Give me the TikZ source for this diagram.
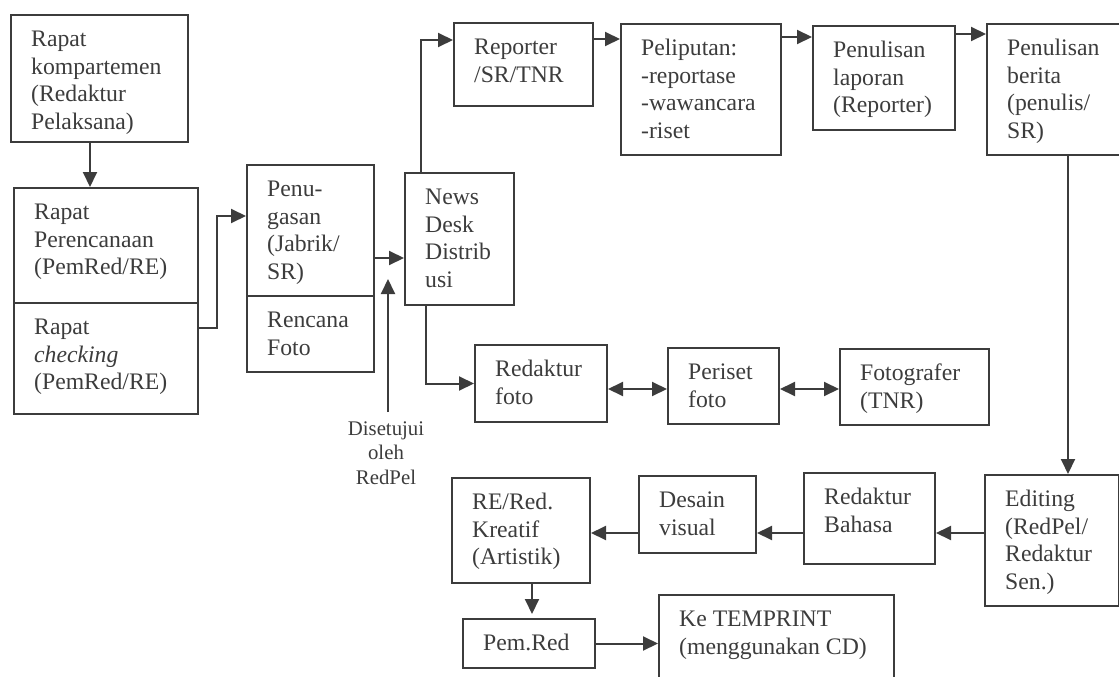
\documentclass[tikz,border=0pt]{standalone}
\usepackage{fontspec}
\setmainfont{Liberation Serif}
\usetikzlibrary{arrows.meta}
\definecolor{ink}{HTML}{3C3C3C}
\tikzset{
  boxst/.style={draw=ink, line width=2pt, inner sep=0pt, anchor=north west},
  txt/.style={inner sep=0pt, anchor=north west, align=left, text=ink,
    font=\fontsize{23.7}{27.7}\selectfont},
  lbl/.style={inner sep=0pt, anchor=north, align=center, text=ink,
    font=\fontsize{20.8}{24.5}\selectfont},
  arr/.style={draw=ink, line width=2pt, -{Triangle[length=15pt,width=14pt]}},
  darr/.style={draw=ink, line width=2pt, {Triangle[length=15pt,width=14pt]}-{Triangle[length=15pt,width=14pt]}},
  ln/.style={draw=ink, line width=2pt}
}
\newcommand\bx[6]{%
  \node[boxst,minimum width=#4pt,minimum height=#5pt] (#1) at (#2,#3) {};
  \node[txt] (#1t) at ([shift={(21,13)}]#1.north west) {\strut #6};}
\begin{document}
\begin{tikzpicture}[x=1pt,y=-1pt]
\useasboundingbox (0,0) rectangle (1119,677);
\bx{A}{10}{14}{177}{127}{Rapat\\kompartemen\\(Redaktur\\Pelaksana)}
\bx{B}{13}{187}{184}{115}{Rapat\\Perencanaan\\(PemRed/RE)}
\bx{C}{13}{302}{184}{111}{Rapat\\\textit{checking}\\(PemRed/RE)}
\bx{D}{246}{164}{127}{131}{Penu-\\gasan\\(Jabrik/\\SR)}
\bx{E}{246}{295}{127}{76}{Rencana\\Foto}
\bx{F}{404}{172}{109}{132}{News\\Desk\\Distrib\\usi}
\bx{G}{453}{22}{139}{83}{Reporter\\/SR/TNR}
\bx{H}{620}{23}{160}{131}{Peliputan:\\-reportase\\-wawancara\\-riset}
\bx{I}{812}{25}{142}{104}{Penulisan\\laporan\\(Reporter)}
\bx{J}{986}{23}{144}{131}{Penulisan\\berita\\(penulis/\\SR)}
\bx{K}{474}{344}{132}{77}{Redaktur\\foto}
\bx{L}{667}{347}{111}{76}{Periset\\foto}
\bx{M}{839}{348}{149}{76}{Fotografer\\(TNR)}
\bx{N}{984}{474}{134}{131}{Editing\\(RedPel/\\Redaktur\\Sen.)}
\bx{O}{803}{472}{131}{91}{Redaktur\\Bahasa}
\bx{P}{638}{475}{117}{77}{Desain\\visual}
\bx{Q}{451}{477}{138}{105}{RE/Red.\\Kreatif\\(Artistik)}
\bx{R}{462}{618}{132}{49}{Pem.Red}
\bx{S}{658}{594}{235}{110}{Ke TEMPRINT\\(menggunakan CD)}
% approval label
\node[lbl] (appr) at (386,418) {\strut Disetujui\\oleh\\RedPel};
\coordinate (apptip) at (388,279);
% connectors
\draw[arr] ([xshift=-9.5pt]A.south) -- ([xshift=-9.5pt]A.south |- B.north);
\draw[arr] ([yshift=30.5pt]C.east) -- ++(18,0) |- ([yshift=14.5pt]D.west);
\draw[arr] ([yshift=-27.5pt]D.east) -- ([yshift=-27.5pt]D.east -| F.west);
\draw[arr] ([shift={(2,-6)}]appr.north) -- (apptip);
\draw[arr] ([xshift=17pt]F.north west) |- ([yshift=24.5pt]G.west);
\draw[arr] ([yshift=25.5pt]G.east) -- ([yshift=25.5pt]G.east -| H.west);
\draw[arr] ([yshift=52.5pt]H.east) -- ([yshift=52.5pt]H.east -| I.west);
\draw[arr] ([yshift=44pt]I.east) -- ([yshift=44pt]I.east -| J.west);
\draw[arr] ([xshift=82pt]J.south west) -- ([xshift=82pt]J.south west |- N.north);
\draw[arr] ([yshift=7.5pt]N.west) -- ([yshift=7.5pt]N.west -| O.east);
\draw[arr] ([yshift=-14.5pt]O.west) -- ([yshift=-14.5pt]O.west -| P.east);
\draw[arr] ([yshift=-18.5pt]P.west) -- ([yshift=-18.5pt]P.west -| Q.east);
\draw[arr, shorten >=4pt] ([xshift=11pt]Q.south) -- ([xshift=11pt]Q.south |- R.north);
\draw[arr] (R.east) -- (R.east -| S.west);
\draw[arr] ([xshift=22pt]F.south west) |- (K.west);
\draw[darr] ([yshift=-5.5pt]K.east) -- ([yshift=-5.5pt]K.east -| L.west);
\draw[darr] ([yshift=-3pt]L.east) -- ([yshift=-3pt]L.east -| M.west);
\end{tikzpicture}
\end{document}
